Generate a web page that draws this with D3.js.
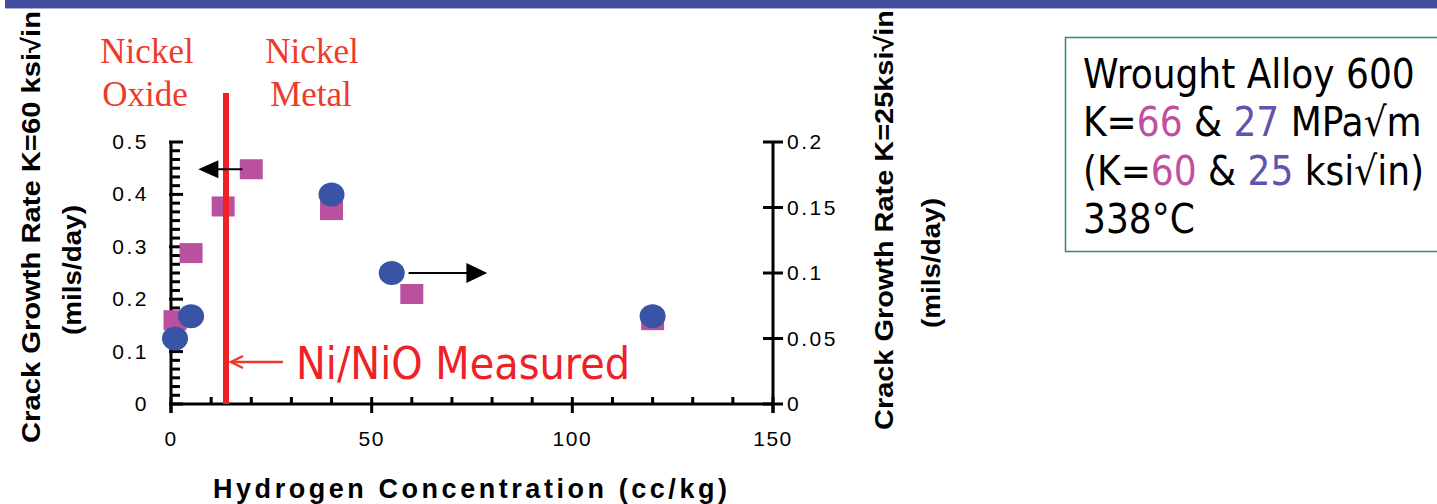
<!DOCTYPE html>
<html><head><meta charset="utf-8">
<script src="https://cdn.jsdelivr.net/npm/d3@7"></script>
<style>body{margin:0;background:#fff}svg{display:block}</style>
</head><body>
<svg id="c" width="1437" height="504"></svg>
<script>
// ---- data ----
const hydrogenK60 = [1, 5, 13, 20, 40, 60, 120];
const rateK60 = [0.16, 0.288, 0.377, 0.448, 0.37, 0.21, 0.16];
const hydrogenK25 = [1, 5, 40, 55, 120];
const rateK25 = [0.05, 0.067, 0.16, 0.1, 0.067];
const xTickLabels = ["0", "50", "100", "150"];
const leftTickLabels = ["0", "0.1", "0.2", "0.3", "0.4", "0.5"];
const rightTickLabels = ["0", "0.05", "0.1", "0.15", "0.2"];
const niNiOBoundary = 13.7;
const legendLines = [
  [["Wrought Alloy 600", "#000"]],
  [["K=", "#000"], ["66", "#c0509f"], [" & ", "#000"], ["27", "#5f55ad"], [" MPa\u221Am", "#000"]],
  [["(K=", "#000"], ["60", "#c0509f"], [" & ", "#000"], ["25", "#5f55ad"], [" ksi\u221Ain)", "#000"]],
  [["338\u00B0C", "#000"]]
];

const svg = d3.select("#c");
svg.append("rect").attr("width", 1437).attr("height", 504).attr("fill", "#fff");
// header bar
svg.append("rect").attr("x", 5).attr("y", 0).attr("width", 1432).attr("height", 8).attr("fill", "#434f9e");
svg.append("rect").attr("x", 5).attr("y", 8).attr("width", 1432).attr("height", 1).attr("fill", "#a9afd9");

const x = d3.scaleLinear().domain([0, 150]).range([171, 773]);
const yL = d3.scaleLinear().domain([0, 0.5]).range([404, 142]);
const yR = d3.scaleLinear().domain([0, 0.2]).range([404, 142]);

const ax = svg.append("g").attr("stroke", "#000").attr("stroke-width", 3);
// axis lines
ax.append("line").attr("x1", x(0)).attr("x2", x(150)).attr("y1", yL(0)).attr("y2", yL(0));
ax.append("line").attr("x1", x(0)).attr("x2", x(0)).attr("y1", yL(0.5)).attr("y2", yL(0) + 9);
ax.append("line").attr("x1", x(150)).attr("x2", x(150)).attr("y1", yR(0.2)).attr("y2", yR(0) + 9);

// left axis ticks: minor 1/60, major 0.1
d3.range(0, 31).forEach(i => {
  const v = i / 60, major = i % 6 === 0;
  ax.append("line").attr("x1", x(0) - (major ? 2 : 0)).attr("x2", x(0) + (major ? 12 : 9))
    .attr("y1", yL(v)).attr("y2", yL(v));
});
// right axis ticks
d3.range(0, 5).forEach(i => {
  const v = i * 0.05;
  ax.append("line").attr("x1", x(150) - 10).attr("x2", x(150) + 10).attr("y1", yR(v)).attr("y2", yR(v));
});
// x ticks
d3.range(0, 16).forEach(i => {
  const v = i * 10, major = i % 5 === 0;
  ax.append("line").attr("x1", x(v)).attr("x2", x(v))
    .attr("y1", yL(0) - 7).attr("y2", yL(0) + (major ? 9 : 0));
});

const tickFont = "'Liberation Sans', Arial, sans-serif";
// tick labels
svg.append("g").selectAll("text").data(xTickLabels).join("text")
  .attr("x", d => x(+d)).attr("y", 446).attr("text-anchor", "middle")
  .attr("font-family", tickFont).attr("font-size", 21).attr("letter-spacing", 1.5)
  .text(d => d);
svg.append("g").selectAll("text").data(leftTickLabels).join("text")
  .attr("x", 149).attr("y", d => yL(+d) + 7).attr("text-anchor", "end")
  .attr("font-family", tickFont).attr("font-size", 21).attr("letter-spacing", 2.5)
  .text(d => d);
svg.append("g").selectAll("text").data(rightTickLabels).join("text")
  .attr("x", 787).attr("y", d => yR(+d) + 7).attr("text-anchor", "start")
  .attr("font-family", tickFont).attr("font-size", 21).attr("letter-spacing", 2.5)
  .text(d => d);

// axis titles
svg.append("text").attr("x", 470).attr("y", 498).attr("text-anchor", "middle")
  .attr("font-family", tickFont).attr("font-weight", "bold").attr("font-size", 27)
  .attr("textLength", 514).attr("lengthAdjust", "spacing")
  .text("Hydrogen Concentration (cc/kg)");
function vtitle(cx, cy, len, txt) {
  svg.append("text").attr("transform", `translate(${cx},${cy}) rotate(-90)`)
    .attr("text-anchor", "middle").attr("dominant-baseline", "central")
    .attr("font-family", tickFont).attr("font-weight", "bold").attr("font-size", 26)
    .attr("textLength", len).attr("lengthAdjust", "spacingAndGlyphs").text(txt);
}
vtitle(31, 227, 432, "Crack Growth Rate K=60 ksi\u221Ain");
vtitle(72, 270, 130, "(mils/day)");
vtitle(884, 220, 420, "Crack Growth Rate K=25ksi\u221Ain");
vtitle(931, 263, 130, "(mils/day)");

// Ni/NiO vertical line
svg.append("line").attr("x1", x(niNiOBoundary)).attr("x2", x(niNiOBoundary))
  .attr("y1", 93).attr("y2", yL(0)).attr("stroke", "#ee2226").attr("stroke-width", 6);

// markers
svg.append("g").selectAll("rect").data(hydrogenK60).join("rect")
  .attr("x", (d) => x(d) - 11.5).attr("y", (d, i) => yL(rateK60[i]) - 10)
  .attr("width", 23).attr("height", 20).attr("fill", "#b9519f");
// redraw line over square near boundary
svg.append("line").attr("x1", x(niNiOBoundary)).attr("x2", x(niNiOBoundary))
  .attr("y1", 93).attr("y2", yL(0)).attr("stroke", "#ee2226").attr("stroke-width", 6);
svg.append("g").selectAll("ellipse").data(hydrogenK25).join("ellipse")
  .attr("cx", d => x(d)).attr("cy", (d, i) => yR(rateK25[i]))
  .attr("rx", 13).attr("ry", 12).attr("fill", "#3a54a5");

// black arrows
const ay1 = yL(0.448);
svg.append("line").attr("x1", x(17.8)).attr("x2", x(11.5)).attr("y1", ay1).attr("y2", ay1).attr("stroke", "#000").attr("stroke-width", 2);
svg.append("path").attr("d", `M${x(6.8)},${ay1} L${x(11.8)},${ay1 - 9} L${x(11.8)},${ay1 + 9} Z`).attr("fill", "#000");
const ay2 = yR(0.1);
svg.append("line").attr("x1", x(59.2)).attr("x2", x(74)).attr("y1", ay2).attr("y2", ay2).attr("stroke", "#000").attr("stroke-width", 2);
svg.append("path").attr("d", `M${x(78.8)},${ay2} L${x(73.6)},${ay2 - 10} L${x(73.6)},${ay2 + 10} Z`).attr("fill", "#000");

// red labels
const serif = "'Liberation Serif', 'Times New Roman', serif";
[["Nickel", 147, 63], ["Oxide", 145, 106], ["Nickel", 312, 63], ["Metal", 311, 106]].forEach(([t, cx, by]) => {
  svg.append("text").attr("x", cx).attr("y", by).attr("text-anchor", "middle")
    .attr("font-family", serif).attr("font-size", 35).attr("fill", "#ec3b2c").text(t);
});
const cond = "'DejaVu Sans Condensed', 'DejaVu Sans', sans-serif";
svg.append("text").attr("x", 296).attr("y", 379).attr("font-family", cond).attr("font-stretch", "condensed")
  .attr("font-size", 44).attr("fill", "#ee2226").attr("textLength", 334).attr("lengthAdjust", "spacingAndGlyphs")
  .text("Ni/NiO Measured");
// red arrow
const ry = 362;
svg.append("line").attr("x1", 283).attr("x2", x(niNiOBoundary) + 5).attr("y1", ry).attr("y2", ry).attr("stroke", "#ec3b2c").attr("stroke-width", 2.5);
svg.append("path").attr("d", `M${x(niNiOBoundary) + 17},${ry - 6} L${x(niNiOBoundary) + 5},${ry} L${x(niNiOBoundary) + 17},${ry + 6}`)
  .attr("fill", "none").attr("stroke", "#ec3b2c").attr("stroke-width", 2.5);

// legend box
svg.append("rect").attr("x", 1065.5).attr("y", 37.5).attr("width", 400).attr("height", 214)
  .attr("fill", "#fff").attr("stroke", "#2f9251").attr("stroke-width", 1.5);
const lg = svg.append("g");
legendLines.forEach((parts, i) => {
  const t = lg.append("text").attr("x", 1083).attr("y", 88 + i * 48.3)
    .attr("font-family", cond).attr("font-stretch", "condensed").attr("font-size", 40);
  parts.forEach(([s, c]) => t.append("tspan").attr("fill", c).text(s));
});
</script>
</body></html>
